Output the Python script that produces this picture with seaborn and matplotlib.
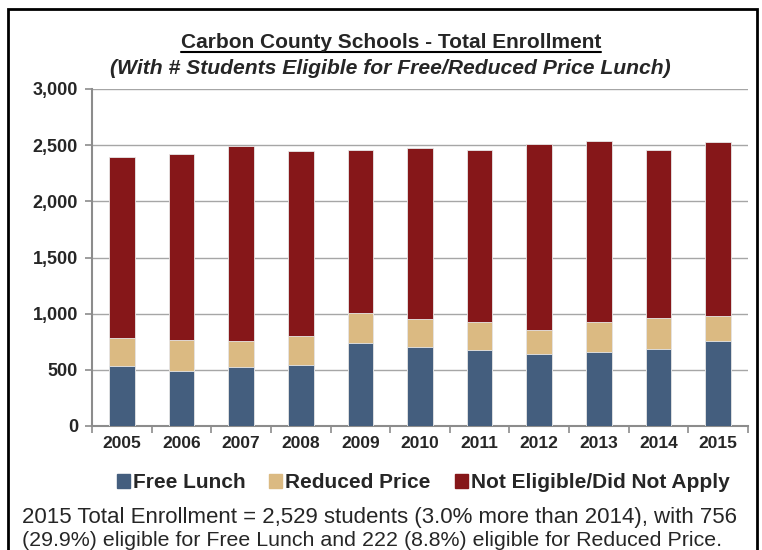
import matplotlib
matplotlib.use("Agg")
import matplotlib.pyplot as plt
import seaborn as sns
import pandas as pd
from matplotlib.patches import Patch, Rectangle
from matplotlib.lines import Line2D
from matplotlib.ticker import FuncFormatter, FixedLocator

# Datos
years = ["2005", "2006", "2007", "2008", "2009", "2010", "2011", "2012", "2013", "2014", "2015"]
free_lunch = [534, 490, 522, 540, 739, 700, 679, 641, 659, 685, 756]
reduced_price = [249, 273, 232, 264, 264, 250, 244, 216, 264, 276, 222]
not_eligible = [1613, 1660, 1740, 1640, 1455, 1523, 1538, 1657, 1612, 1494, 1551]

c_free = "#445E7E"
c_reduced = "#DBBA82"
c_not = "#861719"

sns.set_style("white")
plt.rcParams["font.family"] = ["Liberation Sans", "DejaVu Sans"]

df = pd.DataFrame({"year": years, "free": free_lunch, "reduced": reduced_price, "not": not_eligible})
df["free_red"] = df["free"] + df["reduced"]
df["total"] = df["free_red"] + df["not"]

W, H = 762, 550
fig = plt.figure(figsize=(W / 100, H / 100), dpi=100)
ax = fig.add_axes([92 / W, 1 - 426 / H, (748 - 92) / W, (426 - 89) / H])

# Barras apiladas (de mayor a menor)
kw = dict(order=years, width=0.43, edgecolor="#E8E8E8", linewidth=0.6, zorder=3)
sns.barplot(data=df, x="year", y="total", color=c_not, saturation=1, ax=ax, **kw)
sns.barplot(data=df, x="year", y="free_red", color=c_reduced, saturation=1, ax=ax, **kw)
sns.barplot(data=df, x="year", y="free", color=c_free, saturation=1, ax=ax, **kw)

ax.set_xlim(-0.5, len(years) - 0.5)
ax.set_ylim(0, 3000)
ax.set_yticks(range(0, 3001, 500))
ax.yaxis.set_major_formatter(FuncFormatter(lambda v, p: f"{int(v):,}"))
ax.set_xlabel("")
ax.set_ylabel("")
ax.grid(axis="y", color="#A6A6A6", linewidth=1, zorder=0)
ax.set_axisbelow(True)
for s in ["top", "right"]:
    ax.spines[s].set_visible(False)
for s in ["left", "bottom"]:
    ax.spines[s].set_color("#8C8C8C")
    ax.spines[s].set_linewidth(1.5)
ax.tick_params(axis="y", direction="out", length=5, width=1.2, color="#8C8C8C", pad=5,
               labelsize=13, left=True)
ax.tick_params(axis="x", which="major", length=0, pad=7, labelsize=12.5)
ax.xaxis.set_minor_locator(FixedLocator([i - 0.5 for i in range(len(years) + 1)]))
ax.tick_params(axis="x", which="minor", direction="out", length=5, width=1.2, color="#8C8C8C", bottom=True)
for lab in ax.get_xticklabels() + ax.get_yticklabels():
    lab.set_fontweight("bold")

# Titulo
t1 = fig.text(391 / W, 1 - 42 / H, "Carbon County Schools - Total Enrollment",
              ha="center", va="center", fontsize=15, fontweight="bold")
fig.text(390 / W, 1 - 68 / H, "(With # Students Eligible for Free/Reduced Price Lunch)",
         ha="center", va="center", fontsize=15.2, fontweight="bold", fontstyle="italic")

# Leyenda
handles = [Patch(color=c_free, label="Free Lunch"),
           Patch(color=c_reduced, label="Reduced Price"),
           Patch(color=c_not, label="Not Eligible/Did Not Apply")]
leg = fig.legend(handles=handles, loc="center", bbox_to_anchor=(423 / W, 1 - 483 / H), ncol=3,
                 frameon=False, handlelength=0.62, handleheight=0.62, handletextpad=0.15,
                 columnspacing=1.15, borderpad=0, prop={"weight": "bold", "size": 15})

# Texto inferior
fig.text(22 / W, 1 - 518 / H,
         "2015 Total Enrollment = 2,529 students (3.0% more than 2014), with 756",
         ha="left", va="center", fontsize=16)
fig.text(22 / W, 1 - 540 / H,
         "(29.9%) eligible for Free Lunch and 222 (8.8%) eligible for Reduced Price.",
         ha="left", va="center", fontsize=15.4)

# Marco
fig.patches.append(Rectangle((8 / W, -0.05), (757 - 8) / W, 1.05 - 9 / H, transform=fig.transFigure,
                             fill=False, edgecolor="black", linewidth=2))

# Subrayado del titulo
fig.canvas.draw()
bb = t1.get_window_extent().transformed(fig.transFigure.inverted())
fig.lines.append(Line2D([bb.x0, bb.x1], [bb.y0 - 0.001, bb.y0 - 0.001], transform=fig.transFigure,
                        color="black", linewidth=1.5))

fig.savefig("out.png", dpi=100)
